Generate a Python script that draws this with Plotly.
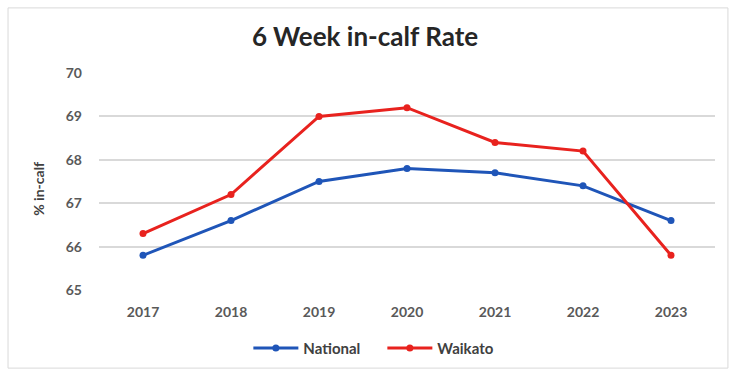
import plotly.graph_objects as go

years = ["2017", "2018", "2019", "2020", "2021", "2022", "2023"]
national = [65.8, 66.6, 67.5, 67.8, 67.7, 67.4, 66.6]
waikato = [66.3, 67.2, 69.0, 69.2, 68.4, 68.2, 65.8]
y_ticks = [65, 66, 67, 68, 69, 70]

BLUE = "#1f55b8"
RED = "#e8221e"
FONT = "Lato"

fig = go.Figure()
fig.add_trace(go.Scatter(x=years, y=national, name="National", mode="lines+markers",
                         line=dict(color=BLUE, width=3),
                         marker=dict(color=BLUE, size=7, symbol="circle")))
fig.add_trace(go.Scatter(x=years, y=waikato, name="Waikato", mode="lines+markers",
                         line=dict(color=RED, width=3),
                         marker=dict(color=RED, size=7, symbol="circle")))

fig.update_layout(
    width=730, height=377,
    margin=dict(l=99, r=15, t=73, b=84),
    paper_bgcolor="white", plot_bgcolor="white",
    font=dict(family=FONT, color="#595959"),
    title=dict(text="<b>6 Week in-calf Rate</b>", x=0.5, xanchor="center",
               y=1 - 37 / 377, yanchor="middle",
               font=dict(family=FONT, size=26, color="#262626")),
    showlegend=True,
    legend=dict(orientation="h", x=0.46, xanchor="center", y=-0.268, yanchor="middle",
                itemwidth=45, entrywidth=74, entrywidthmode="pixels",
                font=dict(family=FONT, size=15, color="#404040", weight="bold")),
    xaxis=dict(showgrid=False, showline=False, zeroline=False, range=[-0.5, 6.5],
               tickfont=dict(family=FONT, size=14, color="#595959", weight="bold"),
               ticklabelstandoff=12),
    yaxis=dict(range=[65, 70], tickvals=y_ticks, showgrid=True, gridcolor="#d9d9d9",
               gridwidth=2, zeroline=False, showline=False,
               tickfont=dict(family=FONT, size=14, color="#595959", weight="bold"),
               ticklabelstandoff=16),
    shapes=[dict(type="rect", xref="paper", yref="paper",
                 x0=-0.1477, x1=1.021, y0=-0.36, y1=1.3,
                 line=dict(color="#d9d9d9", width=1), fillcolor="rgba(0,0,0,0)",
                 layer="below")],
    annotations=[dict(text="<b>% in-calf</b>", xref="paper", yref="paper",
                      x=-0.0985, y=0.468, textangle=-90, showarrow=False,
                      xanchor="center", yanchor="middle",
                      font=dict(family=FONT, size=14, color="#404040"))],
)

fig.write_html("out.html")
